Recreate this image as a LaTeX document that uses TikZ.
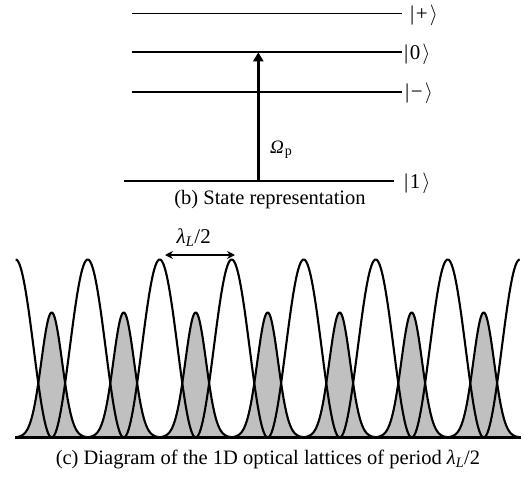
\documentclass[tikz,border=0pt]{standalone}
\usepackage{fontspec}
\setmainfont{Liberation Serif}
\usetikzlibrary{arrows.meta}
\definecolor{wellgrey}{RGB}{192,192,192}
\newcommand{\myket}[1]{|\kern1.5pt#1\kern2pt$\rangle$}
\begin{document}
\begin{tikzpicture}[x=1pt,y=-1pt,
  level/.style={line width=1.8pt},
  ket/.style={anchor=base west, inner sep=0pt, font=\fontsize{21}{24}\selectfont},
  captext/.style={anchor=base, inner sep=0pt, font=\fontsize{20.5}{24}\selectfont},
  curve/.style={line width=2.1pt, line join=round},
  pump/.style={line width=3.4pt, -{Triangle[length=9pt,width=10pt]}},
  period/.style={line width=1.7pt, {Stealth[length=8pt,width=8pt]}-{Stealth[length=8pt,width=8pt]}}]
\useasboundingbox (0,0) rectangle (525,479);
% ---- (b) energy levels ----
\coordinate (Lpa) at (131.7,13.5);  \coordinate (Lpb) at (401.7,13.5);
\coordinate (L0a) at (131.7,52.3);  \coordinate (L0b) at (401.7,52.3);
\coordinate (Lma) at (131.7,91.7);  \coordinate (Lmb) at (401.7,91.7);
\coordinate (L1a) at (124,181);     \coordinate (L1b) at (394,181);
\draw[level] (Lpa) -- (Lpb);
\draw[level] (L0a) -- (L0b);
\draw[level] (Lma) -- (Lmb);
\draw[level] (L1a) -- (L1b);
\node[ket] (kp) at (410,20.5) {\myket{+}};
\node[ket] (k0) at (404,59.3) {\myket{0}};
\node[ket] (km) at (405,98.7) {\myket{−}};
\node[ket] (k1) at (404,188) {\myket{1}};
\coordinate (Pbot) at (258.3,181);
\coordinate (Ptop) at (258.3,52.3);
\draw[pump] (Pbot) -- (Ptop);
\node[ket, font=\fontsize{19}{20}\selectfont] (om) at (270,153.3) {\textit{Ω}\kern1pt\textsubscript{\fontsize{14}{16}\selectfont p}};
\node[captext] (capb) at (270,204) {(b) State representation};
% ---- (c) lattice ----
\fill[wellgrey] plot[domain=15.7:519.7, samples=505] (\x, {437.5-125*exp(-((mod(\x-15.7,72)-36)^2)/216.3)}) -- (519.7,437.5) -- (15.7,437.5) -- cycle;
\draw[curve] plot[domain=15.7:519.7, samples=505] (\x, {437.5-125*exp(-((mod(\x-15.7,72)-36)^2)/216.3)});
\draw[curve] plot[domain=15.7:519.7, samples=505] (\x, {437.5-178*pow(cos(2.5*(\x-15.7)),2)});
\coordinate (Ba) at (15,437.5); \coordinate (Bb) at (521,437.5);
\draw[line width=2.4pt] (Ba) -- (Bb);
\coordinate (Ra) at (165,255); \coordinate (Rb) at (235,255);
\draw[period] (Ra) -- (Rb);
\node[ket, font=\fontsize{21}{24}\selectfont] (lam) at (176.5,243.3) {\textit{λ}\textsubscript{\textit{L}}/2};
\node[captext] (capc) at (268,464) {(c) Diagram of the 1D optical lattices of period \textit{λ}\textsubscript{\textit{L}}/2};
\end{tikzpicture}
\end{document}
